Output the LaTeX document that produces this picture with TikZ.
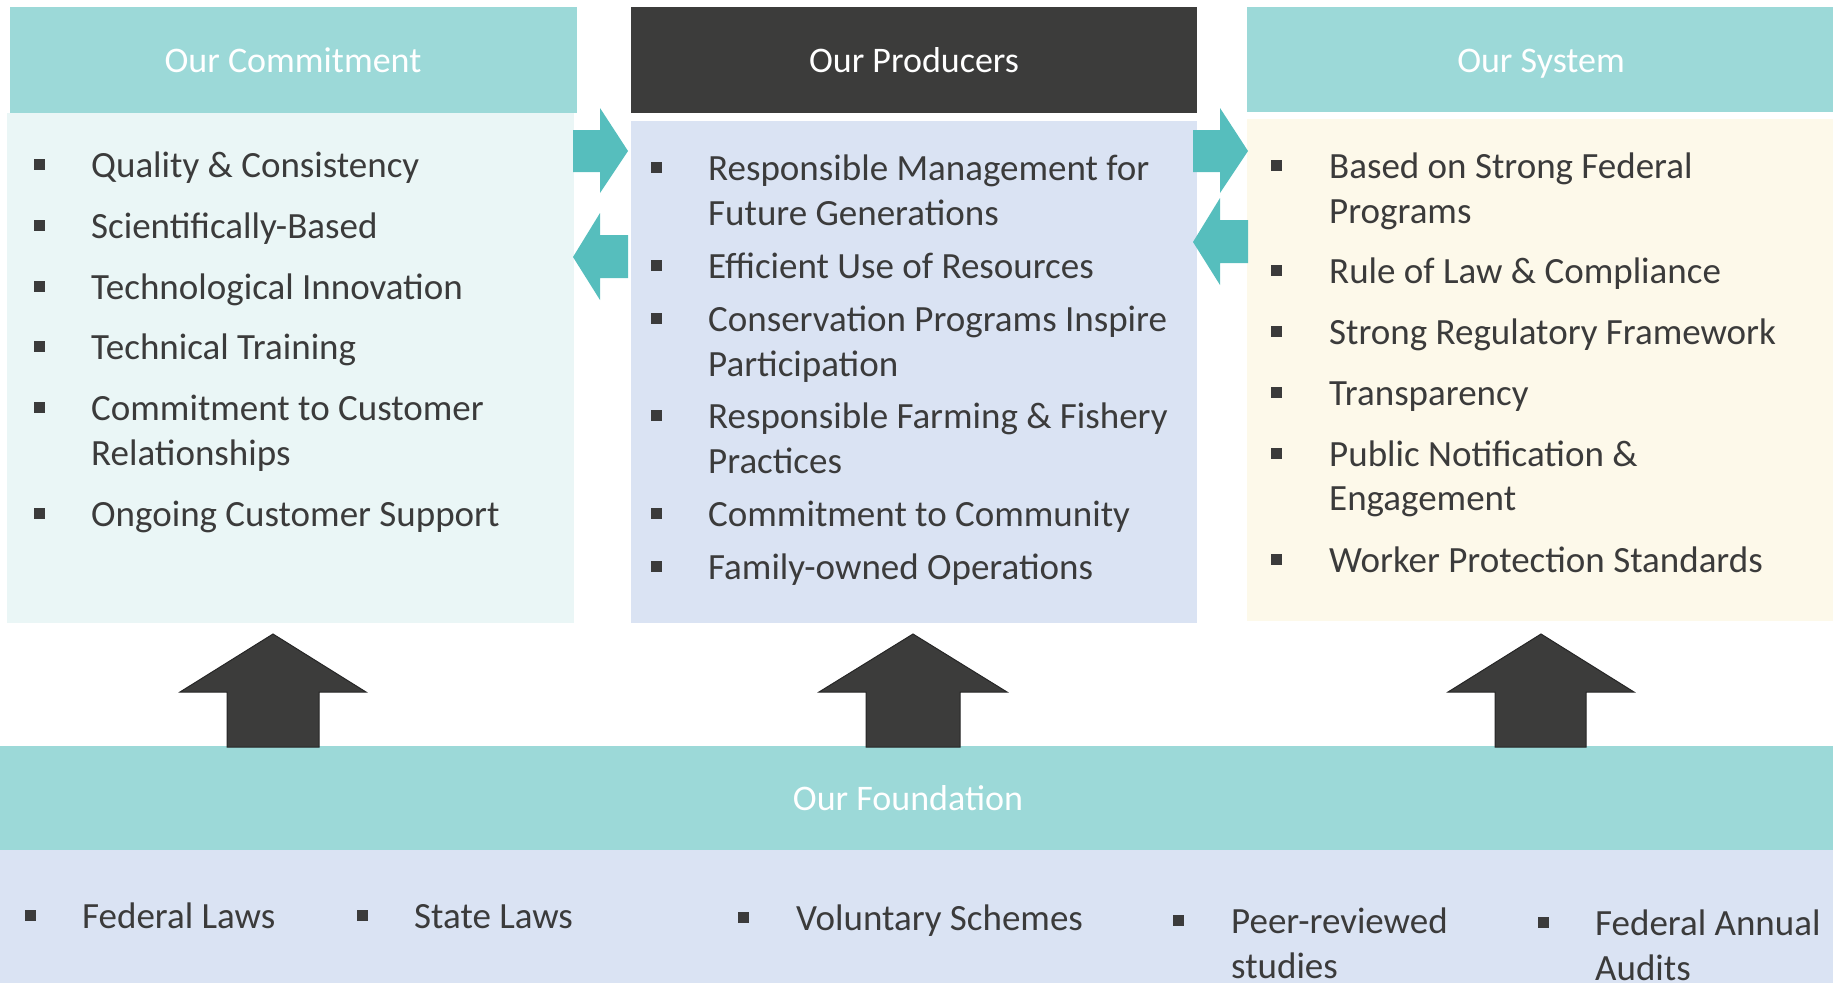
\documentclass[tikz,border=0pt]{standalone}
\usepackage{fontspec}
\setmainfont{Carlito}
\definecolor{tealhdr}{HTML}{9CD9D8}
\definecolor{darkhdr}{HTML}{3C3C3B}
\definecolor{combody}{HTML}{EAF6F6}
\definecolor{probody}{HTML}{DAE3F3}
\definecolor{sysbody}{HTML}{FDF9EA}
\definecolor{sidearr}{HTML}{56BEBD}
\definecolor{txtc}{HTML}{3B3B3B}
\tikzset{
  itemtxt/.style={anchor=base west, inner sep=0pt, font=\fontsize{37}{44}\selectfont, text=txtc},
  hdrtxt/.style={anchor=base, inner sep=0pt, font=\fontsize{36}{44}\selectfont, text=white},
  uparr/.style={fill=darkhdr, draw=black!85, line width=1pt, line join=miter},
  sidearrow/.style={fill=sidearr}
}
\newcommand\bitem[5]{%
  \fill[txtc] ({#2-5.5},{#4-18.5}) rectangle ++(11,11);
  \node[itemtxt] (#1) at (#3,#4) {#5};}
\newcommand\citem[3]{\node[itemtxt] (#1) at (#2,#3) {#3};}
\begin{document}
\begin{tikzpicture}[x=1pt,y=-1pt]
\useasboundingbox (0,0) rectangle (1833,983);
% boxes
\fill[tealhdr] (10,7) rectangle (577,113);
\fill[combody] (7,113) rectangle (574,623);
\fill[darkhdr] (631,7) rectangle (1197,113);
\fill[probody] (631,121) rectangle (1197,623);
\fill[tealhdr] (1247,7) rectangle (1833,112);
\fill[sysbody] (1247,119) rectangle (1833,621);
\fill[tealhdr] (0,746) rectangle (1833,850);
\fill[probody] (0,850) rectangle (1833,983);
% headers
\node[hdrtxt] (hc) at (293,72) {Our Commitment};
\node[hdrtxt] (hp) at (914,72) {Our Producers};
\node[hdrtxt] (hs) at (1541,72) {Our System};
\node[hdrtxt] (hf) at (908,810) {Our Foundation};
% commitment items
\bitem{c1}{39}{91}{177}{Quality \& Consistency}
\bitem{c2}{39}{91}{238}{Scientifically-Based}
\bitem{c3}{39}{91}{299}{Technological Innovation}
\bitem{c4}{39}{91}{359}{Technical Training}
\bitem{c5}{39}{91}{420}{Commitment to Customer}
\node[itemtxt] (c5b) at (91,465) {Relationships};
\bitem{c6}{39}{91}{526}{Ongoing Customer Support}
% producers items
\bitem{p1}{656}{708}{180}{Responsible Management for}
\node[itemtxt] (p1b) at (708,225) {Future Generations};
\bitem{p2}{656}{708}{278}{Efficient Use of Resources}
\bitem{p3}{656}{708}{331}{Conservation Programs Inspire}
\node[itemtxt] (p3b) at (708,376) {Participation};
\bitem{p4}{656}{708}{428}{Responsible Farming \& Fishery}
\node[itemtxt] (p4b) at (708,473) {Practices};
\bitem{p5}{656}{708}{526}{Commitment to Community}
\bitem{p6}{656}{708}{579}{Family-owned Operations}
% system items
\bitem{s1}{1276}{1329}{178}{Based on Strong Federal}
\node[itemtxt] (s1b) at (1329,223) {Programs};
\bitem{s2}{1276}{1329}{283}{Rule of Law \& Compliance}
\bitem{s3}{1276}{1329}{344}{Strong Regulatory Framework}
\bitem{s4}{1276}{1329}{405}{Transparency}
\bitem{s5}{1276}{1329}{466}{Public Notification \&}
\node[itemtxt] (s5b) at (1329,510) {Engagement};
\bitem{s6}{1276}{1329}{572}{Worker Protection Standards}
% foundation items
\bitem{f1}{30}{82}{928}{Federal Laws}
\bitem{f2}{362}{414}{928}{State Laws}
\bitem{f3}{743}{796}{930}{Voluntary Schemes}
\bitem{f4}{1178}{1231}{933}{Peer-reviewed}
\node[itemtxt] (f4b) at (1231,978) {studies};
\bitem{f5}{1543}{1595}{935}{Federal Annual}
\node[itemtxt] (f5b) at (1595,980) {Audits};
% side arrows
\fill[sidearrow] (573,130) -- (600,130) -- (600,108) -- (628,151) -- (600,193) -- (600,172) -- (573,172) -- cycle;
\fill[sidearrow] (628,235) -- (600,235) -- (600,213) -- (573,257) -- (600,300) -- (600,278) -- (628,278) -- cycle;
\fill[sidearrow] (1193,130) -- (1220,130) -- (1220,108) -- (1248,151) -- (1220,193) -- (1220,172) -- (1193,172) -- cycle;
\fill[sidearrow] (1248,220) -- (1220,220) -- (1220,198) -- (1193,242) -- (1220,285) -- (1220,263) -- (1248,263) -- cycle;
% up arrows
\draw[uparr] (227,747) -- (227,692) -- (180,692) -- (273,634) -- (366,692) -- (319,692) -- (319,747) -- cycle;
\draw[uparr] (866,747) -- (866,692) -- (819,692) -- (913,634) -- (1007,692) -- (960,692) -- (960,747) -- cycle;
\draw[uparr] (1495,747) -- (1495,692) -- (1448,692) -- (1541,634) -- (1634,692) -- (1586,692) -- (1586,747) -- cycle;
\end{tikzpicture}
\end{document}
